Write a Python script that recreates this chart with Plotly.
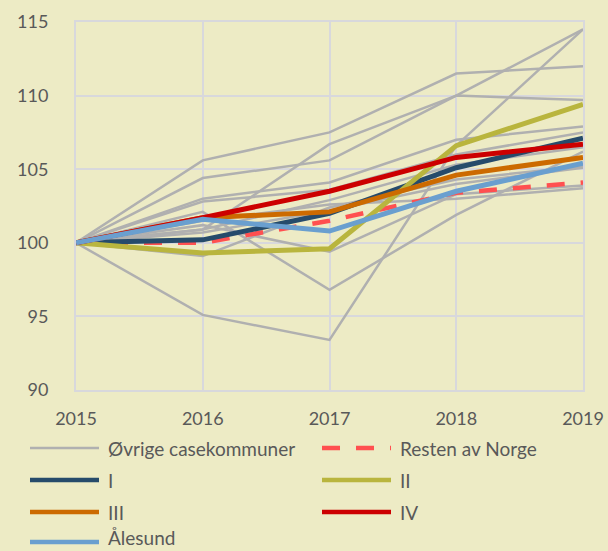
import plotly.graph_objects as go

# Index, 2015 = 100
years = [2015, 2016, 2017, 2018, 2019]

ovrige = [
    [100, 105.6, 107.5, 111.5, 112.0],
    [100, 104.4, 105.6, 110.0, 109.7],
    [100, 100.9, 106.7, 110.0, 114.5],
    [100, 95.1, 93.4, 106.6, 114.5],
    [100, 102.1, 96.8, 101.9, 106.2],
    [100, 99.1, 102.4, 104.3, 105.2],
    [100, 101.2, 99.4, 103.3, 103.9],
    [100, 103.0, 104.1, 107.0, 107.9],
    [100, 102.8, 103.6, 106.0, 107.5],
    [100, 100.9, 102.9, 105.3, 106.5],
    [100, 100.7, 102.2, 104.0, 105.1],
    [100, 101.5, 102.6, 103.0, 103.7],
]
resten_av_norge = [100, 100.0, 101.5, 103.4, 104.1]
region_i = [100, 100.2, 102.0, 105.1, 107.1]
region_ii = [100, 99.3, 99.6, 106.6, 109.4]
region_iii = [100, 101.7, 102.1, 104.6, 105.8]
region_iv = [100, 101.7, 103.5, 105.8, 106.7]
alesund = [100, 101.6, 100.8, 103.5, 105.4]

y_ticks = [90, 95, 100, 105, 110, 115]

BG = "#EDEBC5"
GRID = "#D8D8DC"
TEXT = "#595959"
FONT = "Lato"

series = [
    ("Øvrige casekommuner", None, "#B0B0B0", 2.5, "solid"),
    ("Resten av Norge", resten_av_norge, "#FF5050", 4.5, "18px,16px"),
    ("I", region_i, "#264B6B", 5, "solid"),
    ("II", region_ii, "#B9B53E", 5, "solid"),
    ("III", region_iii, "#CC6A00", 5, "solid"),
    ("IV", region_iv, "#CC0000", 5, "solid"),
    ("Ålesund", alesund, "#6A9FCF", 5, "solid"),
]

fig = go.Figure()

name0, _, grey, grey_w, _ = series[0]
for vals in ovrige:
    fig.add_trace(go.Scatter(
        x=years, y=vals, mode="lines", name=name0, legendgroup="ovrige",
        showlegend=False, line=dict(color=grey, width=grey_w),
        hoverinfo="skip",
    ))

for name, vals, color, width, dash in series[1:]:
    fig.add_trace(go.Scatter(
        x=years, y=vals, mode="lines", name=name, showlegend=False,
        line=dict(color=color, width=width, dash=dash),
    ))

# Two-column legend below the plot area
plot_l, plot_r, plot_t, plot_b = 76, 583, 22, 390
pw, ph = plot_r - plot_l, plot_b - plot_t


def px(xp):
    return (xp - plot_l) / pw


def py(yp):
    return (plot_b - yp) / ph


col_x = [30, 322]
row_y = [448, 480, 512, 542]
sample_len = 69
for i, (name, _, color, width, dash) in enumerate(series):
    cx = col_x[i % 2]
    ry = row_y[i // 2]
    fig.add_shape(
        type="line", xref="paper", yref="paper",
        x0=px(cx), x1=px(cx + sample_len), y0=py(ry), y1=py(ry),
        line=dict(color=color, width=width if width < 4 else 4.5,
                  dash=dash),
    )
    last_row = i // 2 == len(row_y) - 1
    fig.add_annotation(
        xref="paper", yref="paper", x=px(cx + sample_len + 7),
        y=py(551) if last_row else py(ry),
        text=name, showarrow=False, xanchor="left",
        yanchor="bottom" if last_row else "middle",
        font=dict(family=FONT, size=19, color=TEXT),
    )

fig.update_layout(
    width=608, height=551,
    margin=dict(l=plot_l, r=608 - plot_r, t=plot_t, b=551 - plot_b),
    paper_bgcolor=BG, plot_bgcolor=BG,
    showlegend=False,
    font=dict(family=FONT, size=18, color=TEXT),
)
fig.update_xaxes(
    range=[2015, 2019], tickvals=years, ticktext=[str(y) for y in years],
    showgrid=True, gridcolor=GRID, gridwidth=2,
    showline=True, linecolor=GRID, linewidth=2, mirror=True,
    zeroline=False, ticks="", ticklabelstandoff=11, automargin=False,
    tickfont=dict(family=FONT, size=18, color=TEXT),
)
fig.update_yaxes(
    range=[90, 115], tickvals=y_ticks,
    showgrid=True, gridcolor=GRID, gridwidth=2,
    showline=True, linecolor=GRID, linewidth=2, mirror=True,
    zeroline=False, ticks="", ticklabelstandoff=22, automargin=False,
    tickfont=dict(family=FONT, size=18, color=TEXT),
)

fig.write_html("out.html")
